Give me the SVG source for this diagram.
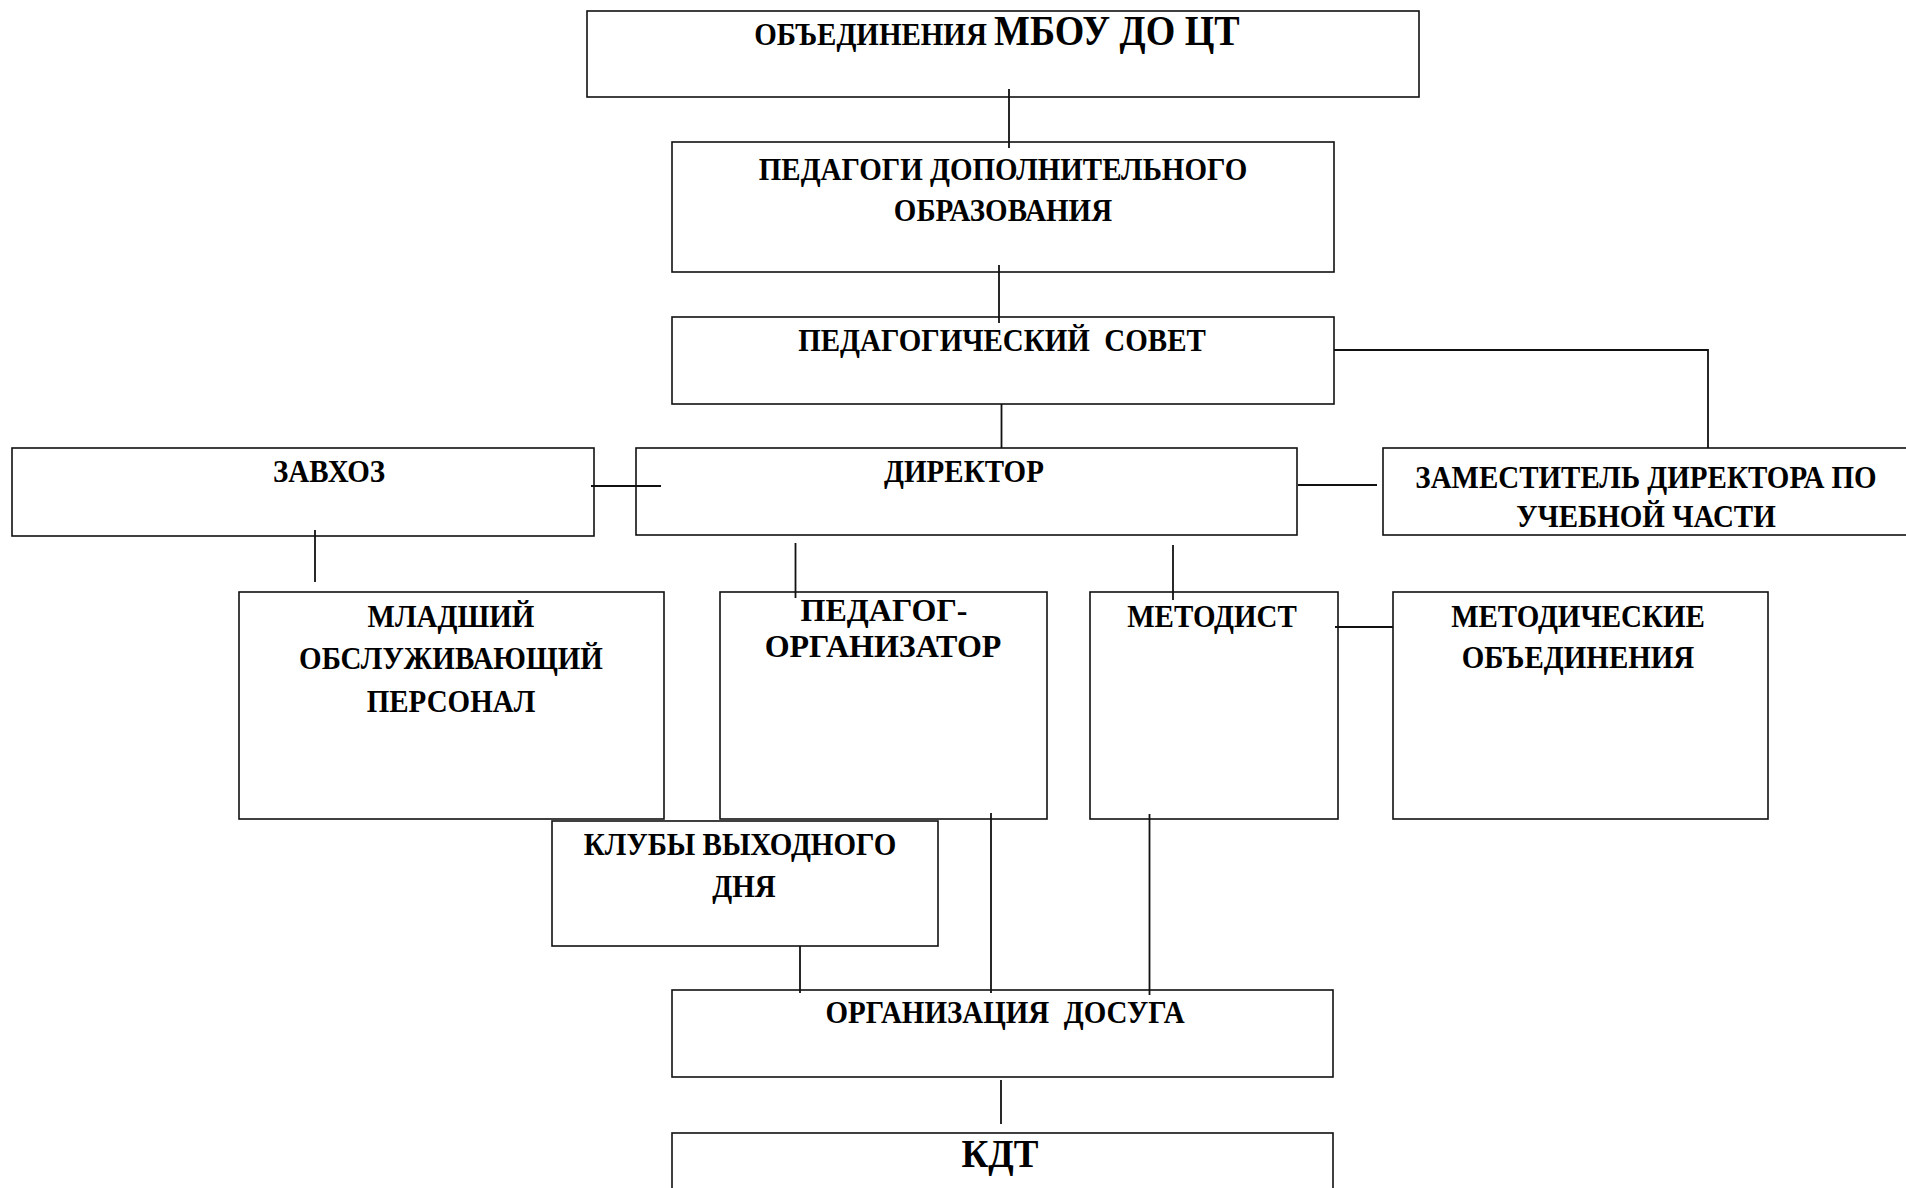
<svg xmlns="http://www.w3.org/2000/svg" width="1906" height="1188" viewBox="0 0 1906 1188">
<style>
rect{fill:#fff;stroke:#111;stroke-width:1.6}
text{font-family:"Liberation Serif","Times New Roman",serif;font-weight:bold;font-size:29px;fill:#000;text-anchor:middle;transform-box:fill-box;transform-origin:50% 78%;transform:scaleY(1.1)}
.big{font-size:38px}
.wide{font-size:32px;transform:none}
.kdt{font-size:37px}
#connectors path{fill:none;stroke:#111;stroke-width:1.8}
</style>
<rect x="0" y="0" width="1906" height="1188" style="stroke:none;fill:#fff"/>
<g id="n-top"><rect x="587" y="11" width="832" height="86"/>
<text x="997" y="45"><tspan>ОБЪЕДИНЕНИЯ </tspan><tspan class="big">МБОУ ДО ЦТ</tspan></text></g>
<g id="n-pdo"><rect x="672" y="142" width="662" height="130"/>
<text x="1003" y="180">ПЕДАГОГИ ДОПОЛНИТЕЛЬНОГО</text><text x="1003" y="221">ОБРАЗОВАНИЯ</text></g>
<g id="n-ps"><rect x="672" y="317" width="662" height="87"/>
<text x="1002" y="351" xml:space="preserve">ПЕДАГОГИЧЕСКИЙ  СОВЕТ</text></g>
<g id="n-zavhoz"><rect x="12" y="448" width="582" height="88"/>
<text x="329" y="482">ЗАВХОЗ</text></g>
<g id="n-director"><rect x="636" y="448" width="661" height="87"/>
<text x="964" y="482">ДИРЕКТОР</text></g>
<g id="n-zam"><rect x="1383" y="448" width="530" height="87"/>
<text x="1646" y="488">ЗАМЕСТИТЕЛЬ ДИРЕКТОРА ПО</text><text x="1646" y="527">УЧЕБНОЙ ЧАСТИ</text></g>
<g id="n-mlad"><rect x="239" y="592" width="425" height="227"/>
<text x="451" y="627">МЛАДШИЙ</text><text x="451" y="669">ОБСЛУЖИВАЮЩИЙ</text><text x="451" y="712">ПЕРСОНАЛ</text></g>
<g id="n-pedorg"><rect x="720" y="592" width="327" height="227"/>
<text class="wide" x="884" y="621">ПЕДАГОГ-</text><text class="wide" x="883" y="657">ОРГАНИЗАТОР</text></g>
<g id="n-metodist"><rect x="1090" y="592" width="248" height="227"/>
<text x="1212" y="627">МЕТОДИСТ</text></g>
<g id="n-metob"><rect x="1393" y="592" width="375" height="227"/>
<text x="1578" y="627">МЕТОДИЧЕСКИЕ</text><text x="1578" y="668">ОБЪЕДИНЕНИЯ</text></g>
<g id="n-kluby"><rect x="552" y="821" width="386" height="125"/>
<text x="740" y="855">КЛУБЫ ВЫХОДНОГО</text><text x="744" y="897">ДНЯ</text></g>
<g id="n-org"><rect x="672" y="990" width="661" height="87"/>
<text x="1005" y="1023" xml:space="preserve">ОРГАНИЗАЦИЯ  ДОСУГА</text></g>
<g id="n-kdt"><rect x="672" y="1133" width="661" height="80"/>
<text class="kdt" x="1000" y="1167">КДТ</text></g>
<g id="connectors">
<path d="M1009 89V148"/>
<path d="M999 265V323"/>
<path d="M1001.5 404V448"/>
<path d="M1334 350H1708V448"/>
<path d="M591 486H661"/>
<path d="M1298 485H1377"/>
<path d="M315 530V582"/>
<path d="M795.5 543V598"/>
<path d="M1173 545V600"/>
<path d="M1335 627H1393"/>
<path d="M991 813V993"/>
<path d="M1149.5 814V995"/>
<path d="M800 946V993"/>
<path d="M1001 1080V1124"/>
</g>
</svg>
